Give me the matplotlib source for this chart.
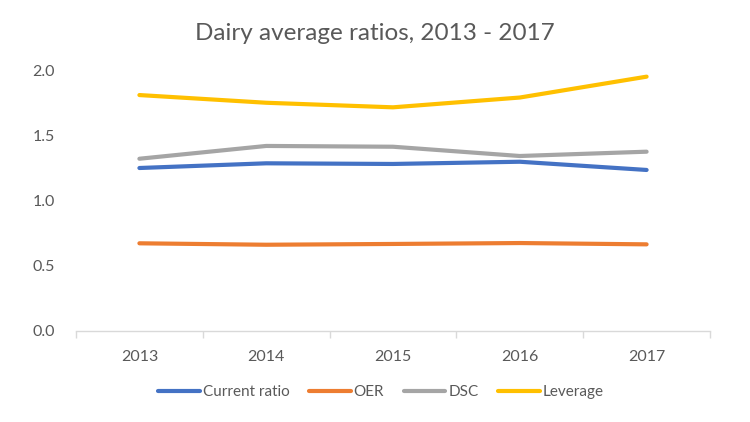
import matplotlib
matplotlib.use("Agg")
import matplotlib.pyplot as plt
import numpy as np

years = ["2013", "2014", "2015", "2016", "2017"]
current_ratio = [1.249, 1.285, 1.280, 1.297, 1.234]
oer = [0.672, 0.661, 0.667, 0.674, 0.664]
dsc = [1.320, 1.418, 1.412, 1.341, 1.374]
leverage = [1.808, 1.749, 1.714, 1.789, 1.949]
yticks = [0.0, 0.5, 1.0, 1.5, 2.0]

series = [("Current ratio", current_ratio, "#4472C4"),
          ("OER", oer, "#ED7D31"),
          ("DSC", dsc, "#A5A5A5"),
          ("Leverage", leverage, "#FFC000")]

plt.rcParams['font.family'] = ['Lato', 'DejaVu Sans']

fig = plt.figure(figsize=(7.5, 4.22), dpi=100)
ax = fig.add_axes([76/750, 1-331/422, (710-76)/750, (331-70)/422])

x = np.arange(len(years))
for name, vals, col in series:
    ax.plot(x, vals, color=col, lw=3, solid_capstyle='round', label=name, clip_on=False)

ax.set_xlim(-0.5, len(years)-0.5)
ax.set_ylim(0, 2.0)
ax.set_xticks(x)
ax.set_xticklabels(years)
ax.set_xticks(np.arange(-0.5, len(years), 1.0), minor=True)
ax.tick_params(axis='x', which='major', length=0, pad=14, labelsize=11.5, labelcolor='#595959')
ax.tick_params(axis='x', which='minor', length=5, color='#D9D9D9', width=1)
ax.set_yticks(yticks)
ax.set_yticklabels([f"{v:.1f}" for v in yticks])
ax.tick_params(axis='y', length=0, pad=15, labelsize=11.5, labelcolor='#595959')
for s in ['left', 'right', 'top']:
    ax.spines[s].set_visible(False)
ax.spines['bottom'].set_color('#D9D9D9')
ax.spines['bottom'].set_linewidth(1)

fig.text(0.5, 1-34/422, "Dairy average ratios, 2013 - 2017", ha='center', va='center',
         fontsize=17.5, color='#595959')

leg = fig.legend(loc='center', bbox_to_anchor=(381/750, 1-392/422), ncol=4, frameon=False,
                 fontsize=11, handlelength=2.7, handletextpad=0.2, columnspacing=1.3)
for t in leg.get_texts():
    t.set_color('#595959')

fig.savefig("out.png", dpi=100)
